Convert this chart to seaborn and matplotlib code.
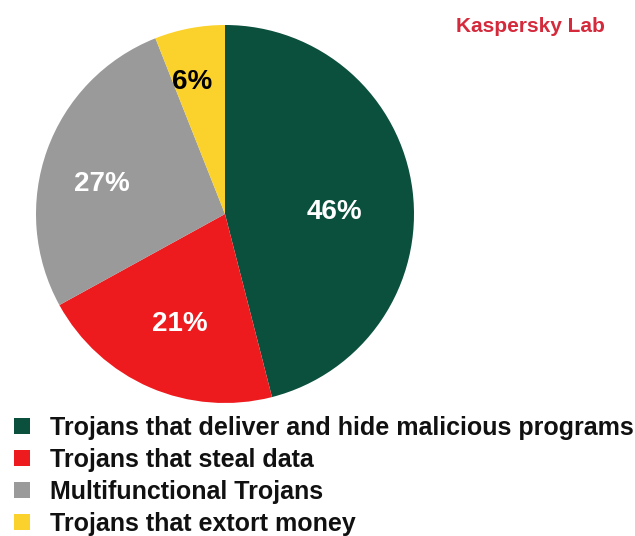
import numpy as np
import matplotlib
matplotlib.use("Agg")
import matplotlib.pyplot as plt
import seaborn as sns

categories = [
    "Trojans that deliver and hide malicious programs",
    "Trojans that steal data",
    "Multifunctional Trojans",
    "Trojans that extort money",
]
shares = [46, 21, 27, 6]
pct_labels = ["46%", "21%", "27%", "6%"]
colors = ["#0b4f3d", "#ee1b1e", "#9a9a9a", "#fbd12c"]
label_colors = ["white", "white", "white", "black"]

sns.set_theme(style="white")
plt.rcParams["font.family"] = ["Liberation Sans", "DejaVu Sans"]

fig = plt.figure(figsize=(6.35, 5.36), dpi=100)
ax = fig.add_axes([36 / 635, 133 / 536, 378 / 635, 378 / 536])

wedges, texts, autotexts = ax.pie(
    shares, colors=colors, startangle=90, counterclock=False,
    autopct=lambda p: "", wedgeprops=dict(linewidth=0),
)
ax.set_xlim(-1, 1)
ax.set_ylim(-1, 1)
ax.set_aspect("equal")
ax.axis("off")

# label placement (radius, angle nudge in degrees)
label_r = [0.58, 0.63, 0.67, 0.72]
label_nudge = [-6, 1, 6, 3]
for w, t, lab, c, r, dn in zip(wedges, autotexts, pct_labels, label_colors, label_r, label_nudge):
    mid = np.deg2rad((w.theta1 + w.theta2) / 2 + dn)
    t.set_text(lab)
    t.set_position((r * np.cos(mid), r * np.sin(mid)))
    t.set_color(c)
    t.set_fontsize(20)
    t.set_fontweight("bold")

leg = fig.legend(
    wedges, categories, loc="upper left", bbox_to_anchor=(14 / 635, 1 - 416 / 536),
    frameon=False, prop=dict(size=18, weight="bold"),
    handlelength=0.62, handleheight=0.62, handletextpad=0.83, labelspacing=0.32,
    borderaxespad=0, borderpad=0,
)
for t in leg.get_texts():
    t.set_color("#111111")

fig.text(530 / 635, 1 - 27 / 536, "Kaspersky Lab", color="#d42a3c",
         fontsize=15, fontweight="bold", ha="center", va="center")

fig.savefig("out.png", dpi=100)
